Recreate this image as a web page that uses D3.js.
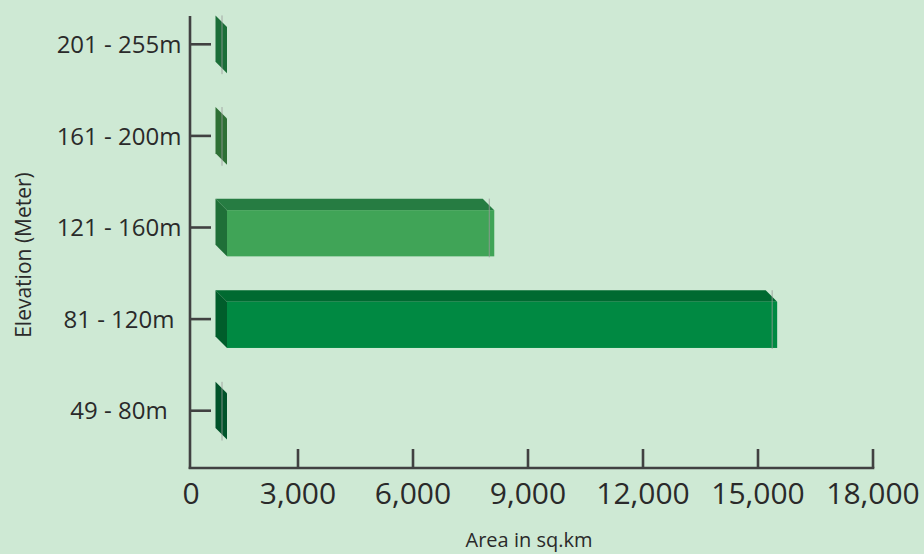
<!DOCTYPE html>
<html>
<head>
<meta charset="utf-8">
<script src="https://cdn.jsdelivr.net/npm/d3@7"></script>
<style>
  html, body { margin: 0; padding: 0; background: #cee9d4; }
  svg { display: block; }
</style>
</head>
<body>
<div id="chart"></div>
<script>
// ---- data ----
const categories = ["201 - 255m", "161 - 200m", "121 - 160m", "81 - 120m", "49 - 80m"];
const areaValues = [20, 100, 8120, 15500, 10];
const xTicks = [0, 3000, 6000, 9000, 12000, 15000, 18000];
const frontColors = ["#227a3f", "#3a8a44", "#40a457", "#008942", "#0a6a35"];
const topColors   = ["#1f7039", "#2f7236", "#267c42", "#006a31", "#00562b"];
const sideColors  = ["#1b6e38", "#2e7035", "#1f6f38", "#005d2b", "#00532a"];

const W = 924, H = 554;
const svg = d3.select("#chart").append("svg")
  .attr("width", W).attr("height", H);

svg.append("rect").attr("width", W).attr("height", H).attr("fill", "#cee9d4");

const axisX = 190, axisBottom = 468, axisTop = 16;
const x = d3.scaleLinear().domain([0, 18000]).range([183, 873]);
const y = d3.scaleBand().domain(categories).range([-1.5, 456.5]).paddingInner(0.37).paddingOuter(0.185);

const depth = 11.5;
const backLeft = 215.5;
const frontLeft = backLeft + depth;
const axisColor = "#414141";
const textColor = "#2a2a2a";

// bars
const bars = svg.append("g");
categories.forEach((c, i) => {
  const v = areaValues[i];
  const y0 = y(c);               // top of back face
  const bh = y.bandwidth();      // total height incl. depth
  const frontTop = y0 + depth;
  const frontBottom = y0 + bh;
  const frontRight = Math.max(x(v), frontLeft);
  const backRight = frontRight - depth;
  const g = bars.append("g");
  if (frontRight > frontLeft + 0.5) {
    g.append("path")
      .attr("d", `M${backLeft},${y0} L${backRight},${y0} L${frontRight},${frontTop} L${frontLeft},${frontTop} Z`)
      .attr("fill", topColors[i]);
    g.append("rect")
      .attr("x", frontLeft).attr("y", frontTop)
      .attr("width", frontRight - frontLeft).attr("height", frontBottom - frontTop)
      .attr("fill", frontColors[i]);
  }
  g.append("path")
    .attr("d", `M${backLeft},${y0} L${frontLeft},${frontTop} L${frontLeft},${frontBottom} L${backLeft},${frontBottom - depth} Z`)
    .attr("fill", sideColors[i]);
  g.append("line")
    .attr("x1", frontRight - 5).attr("x2", frontRight - 5)
    .attr("y1", y0).attr("y2", frontBottom + 1)
    .attr("stroke", "#9a9a9a").attr("stroke-width", 1).attr("opacity", 0.8);
});

// y axis
svg.append("line")
  .attr("x1", axisX).attr("x2", axisX).attr("y1", axisTop).attr("y2", axisBottom + 1)
  .attr("stroke", axisColor).attr("stroke-width", 2.6);
const yt = svg.append("g");
categories.forEach(c => {
  const cy = y(c) + y.bandwidth() / 2;
  yt.append("line")
    .attr("x1", axisX).attr("x2", 211).attr("y1", cy).attr("y2", cy)
    .attr("stroke", axisColor).attr("stroke-width", 2.6);
  yt.append("text")
    .attr("x", 119).attr("y", cy).attr("dy", "0.36em")
    .attr("text-anchor", "middle")
    .attr("font-family", "Open Sans").attr("font-size", 24)
    .attr("fill", textColor).text(c);
});

// x axis
svg.append("line")
  .attr("x1", axisX - 1.3).attr("x2", x(18000) + 1.3).attr("y1", axisBottom).attr("y2", axisBottom)
  .attr("stroke", axisColor).attr("stroke-width", 2.6);
const fmt = d3.format(",");
const xt = svg.append("g");
xTicks.forEach(d => {
  if (d !== 0) {
    xt.append("line")
      .attr("x1", x(d)).attr("x2", x(d)).attr("y1", axisBottom).attr("y2", 449)
      .attr("stroke", axisColor).attr("stroke-width", 2.6);
  }
  xt.append("text")
    .attr("x", d === 0 ? axisX + 1 : x(d)).attr("y", 504)
    .attr("text-anchor", "middle")
    .attr("font-family", "Open Sans").attr("font-size", 30)
    .attr("fill", textColor).text(fmt(d));
});

// titles
svg.append("text")
  .attr("x", 529).attr("y", 547).attr("text-anchor", "middle")
  .attr("font-family", "Open Sans").attr("font-size", 20)
  .attr("fill", textColor).text("Area in sq.km");
svg.append("text")
  .attr("transform", "translate(31,255) rotate(-90)")
  .attr("text-anchor", "middle")
  .attr("font-family", "Open Sans").attr("font-size", 21)
  .attr("fill", textColor).text("Elevation (Meter)");
</script>
</body>
</html>
